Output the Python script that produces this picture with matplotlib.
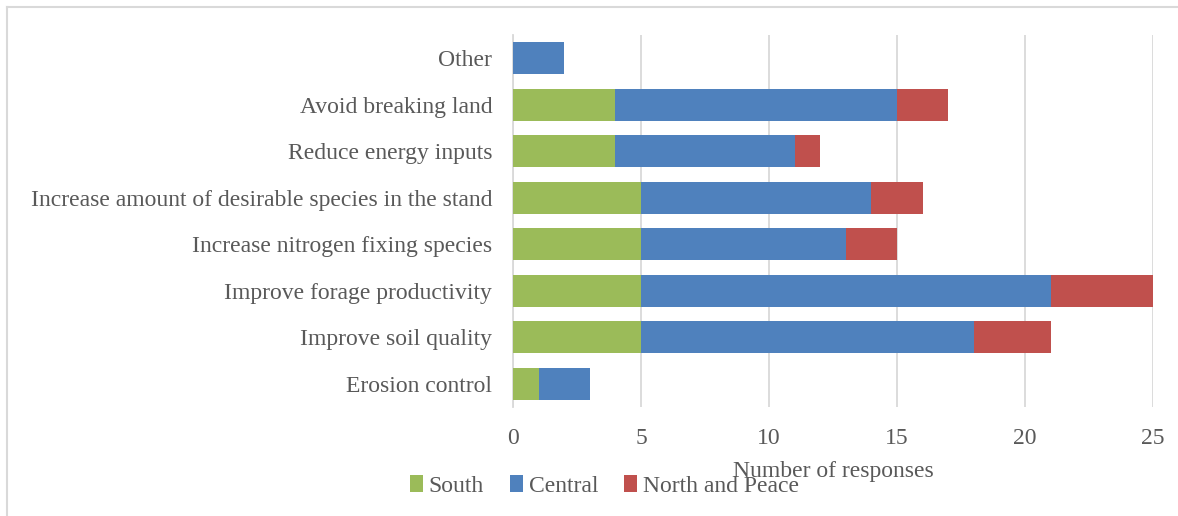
import numpy as np
import matplotlib.pyplot as plt
from matplotlib.lines import Line2D

# Response data (bottom to top)
categories = ["Erosion control", "Improve soil quality", "Improve forage productivity",
              "Increase nitrogen fixing species",
              "Increase amount of desirable species in the stand",
              "Reduce energy inputs", "Avoid breaking land", "Other"]
south = [1, 5, 5, 5, 5, 4, 4, 0]
central = [2, 13, 16, 8, 9, 7, 11, 2]
north_peace = [0, 3, 4, 2, 2, 1, 2, 0]
x_ticks = [0, 5, 10, 15, 20, 25]

plt.rcParams['font.family'] = ['Liberation Serif', 'DejaVu Serif']
text_col = "#595959"
grid_col = "#d9d9d9"
fs = 17

fig = plt.figure(figsize=(11.78, 5.16), dpi=100)
ax = fig.add_axes([513 / 1178, 1 - 407 / 516, 640 / 1178, 372 / 516])

y = np.arange(len(categories))
south = np.array(south)
central = np.array(central)
north_peace = np.array(north_peace)
h = 0.69
ax.barh(y, south, height=h, color="#9bbb59", label="South", zorder=3)
ax.barh(y, central, left=south, height=h, color="#4f81bd", label="Central", zorder=3)
ax.barh(y, north_peace, left=south + central, height=h, color="#c0504d",
        label="North and Peace", zorder=3)

ax.set_xlim(0, 25)
ax.set_ylim(-0.5, len(categories) - 0.5)
ax.set_xticks(x_ticks)
ax.set_yticks(y)
ax.set_yticklabels(categories)
ax.xaxis.grid(True, color=grid_col, linewidth=1.3, zorder=0)
ax.tick_params(axis="both", length=0, labelsize=fs, colors=text_col)
ax.tick_params(axis="x", pad=15)
ax.tick_params(axis="y", pad=15)
for s in ["top", "right", "bottom"]:
    ax.spines[s].set_visible(False)
ax.spines["left"].set_color(grid_col)
ax.spines["left"].set_linewidth(1.3)

ax.set_xlabel("Number of responses", fontsize=fs, color=text_col, labelpad=9)

fig.legend(loc="center", bbox_to_anchor=(0.513, 1 - 486 / 516), ncol=3, frameon=False,
           fontsize=fs, labelcolor=text_col, handlelength=0.55, handleheight=0.7,
           handletextpad=0.25, columnspacing=1.1)

# light frame on top and left edges
fig.add_artist(Line2D([7 / 1178, 1], [1 - 6.5 / 516] * 2, color=grid_col, lw=1.5))
fig.add_artist(Line2D([7 / 1178] * 2, [1 - 6.5 / 516, 1 / 516], color=grid_col, lw=1.5))

fig.savefig("out.png", dpi=100)
